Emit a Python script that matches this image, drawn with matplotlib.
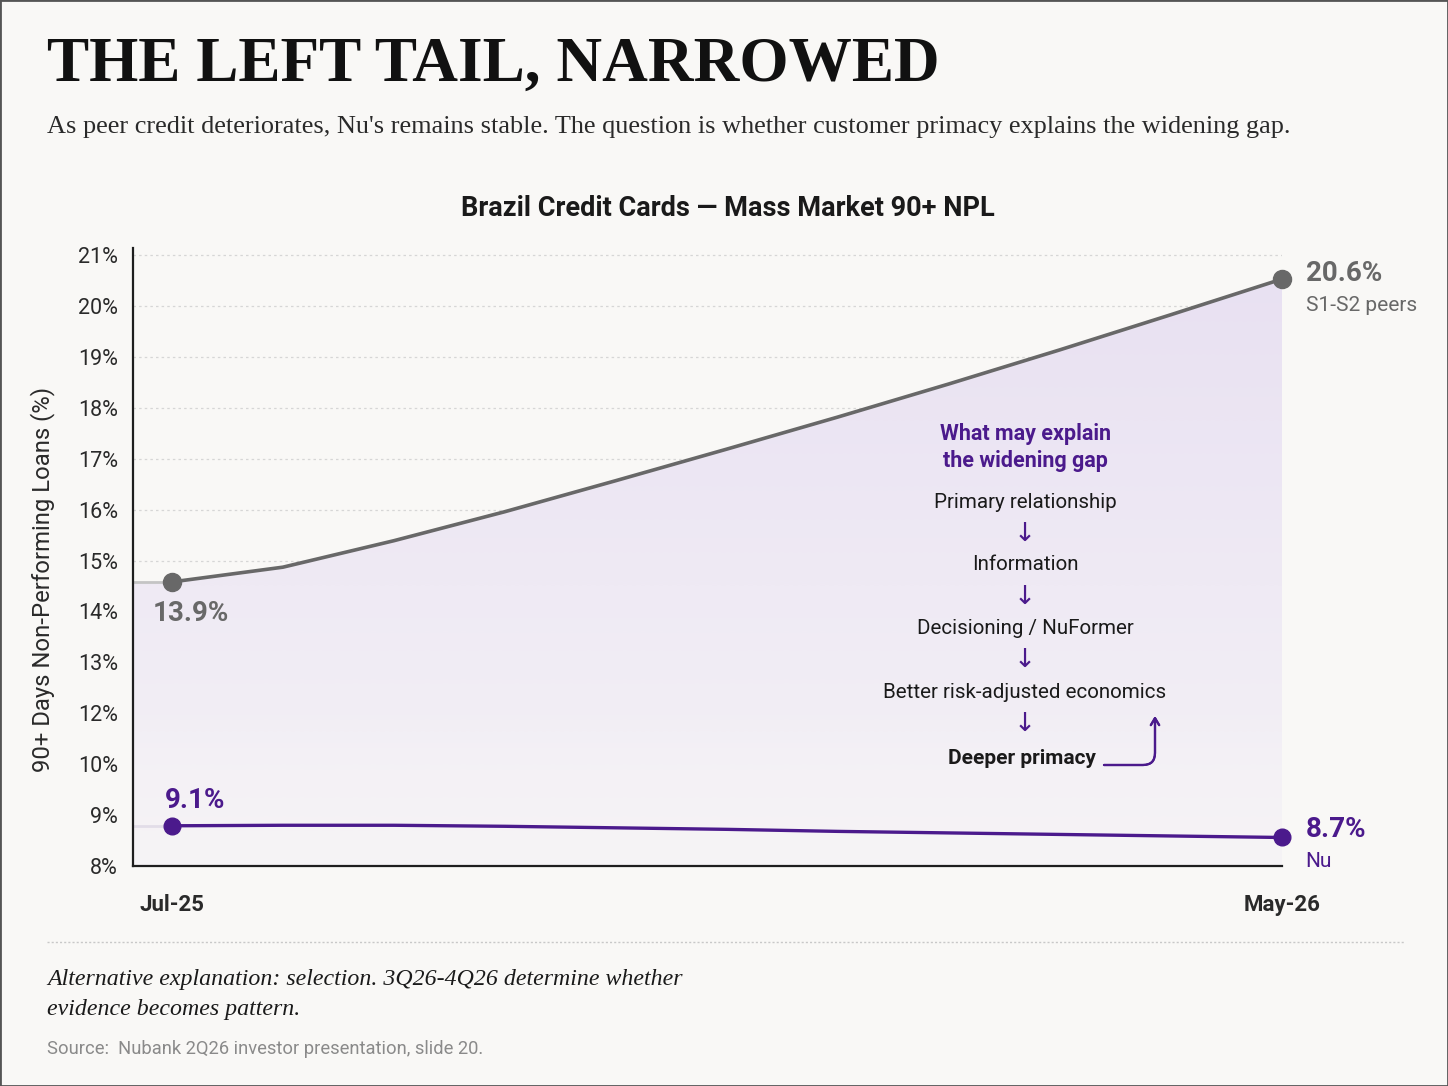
import matplotlib
matplotlib.use("Agg")
import matplotlib.pyplot as plt
import numpy as np
from matplotlib.patches import Rectangle
from matplotlib.colors import LinearSegmentedColormap

# data
months = ["Jul-25", "Aug-25", "Sep-25", "Oct-25", "Nov-25", "Dec-25",
          "Jan-26", "Feb-26", "Mar-26", "Apr-26", "May-26"]
peers = [14.58, 14.87, 15.39, 15.96, 16.57, 17.19, 17.82, 18.47, 19.14, 19.83, 20.53]
nu = [8.79, 8.80, 8.80, 8.78, 8.75, 8.72, 8.68, 8.65, 8.62, 8.59, 8.56]
peer_labels = ["13.9%", "20.6%"]
nu_labels = ["9.1%", "8.7%"]
tick_vals = [8, 9, 10, 12, 13, 14, 15, 16, 17, 18, 19, 20, 21]
tick_labels = ["8%", "9%", "10%", "12%", "13%", "14%", "15%", "16%",
               "17%", "18%", "19%", "20%", "21%"]
steps = ["Primary relationship", "Information", "Decisioning / NuFormer",
         "Better risk-adjusted economics"]

BG = "#f9f8f6"
PURPLE = "#4b1a8c"
GREY = "#686868"
SANS = ["Roboto", "DejaVu Sans"]
SERIF = ["Liberation Serif", "DejaVu Serif"]
plt.rcParams["font.family"] = SANS


def fwd(v):
    v = np.asarray(v, dtype=float)
    return np.where(v >= 12, v - 9, np.where(v >= 10, 2 + (v - 10) / 2, v - 8))


def inv(p):
    p = np.asarray(p, dtype=float)
    return np.where(p >= 3, p + 9, np.where(p >= 2, 10 + 2 * (p - 2), p + 8))


fig = plt.figure(figsize=(14.48, 10.86), dpi=100, facecolor=BG)
ax = fig.add_axes([133 / 1448, 220 / 1086, 1149 / 1448, 618 / 1086])
ax.set_facecolor(BG)
ax.set_yscale("function", functions=(fwd, inv))

x = np.arange(len(months))
x0 = -0.35
ax.set_xlim(x0, 10)
ax.set_ylim(8, 21.14)

# gradient fill under the peer line
fx = np.r_[x0, x]
fy = np.r_[peers[0], peers]
poly = ax.fill_between(fx, fy, 8, color="none", lw=0)
cmap = LinearSegmentedColormap.from_list("g", ["#f6f4f6", "#e8e0f2"])
grad = np.linspace(0, 1, 256).reshape(-1, 1)
im = ax.imshow(grad, cmap=cmap, aspect="auto", origin="lower",
               extent=(x0, 10, 8, 21), zorder=1, interpolation="bilinear")
im.set_clip_path(poly.get_paths()[0], transform=ax.transData)

# lead-in lines from axis
ax.plot([x0, 0], [peers[0]] * 2, color="#c4c4c4", lw=2, zorder=2)
ax.plot([x0, 0], [nu[0]] * 2, color="#e2dde8", lw=2, zorder=2)

ax.plot(x, peers, color=GREY, lw=2.6, zorder=3, solid_capstyle="round",
        solid_joinstyle="round")
ax.plot(x, nu, color=PURPLE, lw=2.4, zorder=3, solid_capstyle="round",
        solid_joinstyle="round")
ax.plot([x[0], x[-1]], [peers[0], peers[-1]], "o", color=GREY, ms=13,
        zorder=4, clip_on=False)
ax.plot([x[0], x[-1]], [nu[0], nu[-1]], "o", color=PURPLE, ms=12,
        zorder=4, clip_on=False)

ax.set_yticks(tick_vals, tick_labels)
ax.set_xticks([0, 10], [months[0], months[-1]])
ax.tick_params(axis="y", length=0, pad=11, labelsize=15.5, labelcolor="#2a2a2a")
ax.tick_params(axis="x", length=0, pad=20, labelsize=16, labelcolor="#2a2a2a")
for t in ax.get_xticklabels():
    t.set_fontweight("bold")
ax.grid(axis="y", color="#d6d6d6", lw=0.9, linestyle=(0, (2, 2.5)))
ax.set_axisbelow(True)
for s in ["top", "right"]:
    ax.spines[s].set_visible(False)
for s in ["left", "bottom"]:
    ax.spines[s].set_color("#1e1e1e")
    ax.spines[s].set_linewidth(1.6)
ax.set_ylabel("90+ Days Non-Performing Loans (%)", fontsize=17.2,
              color="#2a2a2a")
ax.yaxis.set_label_coords(-0.068, 0.463)

# end labels
kw = dict(textcoords="offset points", annotation_clip=False)
ax.annotate(peer_labels[0], (x[0], peers[0]), xytext=(14, -23), ha="center",
            va="center", fontsize=20, fontweight="bold", color=GREY, **kw)
ax.annotate(nu_labels[0], (x[0], nu[0]), xytext=(17, 18), ha="center",
            va="center", fontsize=20, fontweight="bold", color=PURPLE, **kw)
ax.annotate(peer_labels[1], (x[-1], peers[-1]), xytext=(17, 4), ha="left",
            va="center", fontsize=20, fontweight="bold", color=GREY, **kw)
ax.annotate("S1-S2 peers", (x[-1], peers[-1]), xytext=(17, -19), ha="left",
            va="center", fontsize=15, color=GREY, **kw)
ax.annotate(nu_labels[1], (x[-1], nu[-1]), xytext=(17, 6), ha="left",
            va="center", fontsize=20, fontweight="bold", color=PURPLE, **kw)
ax.annotate("Nu", (x[-1], nu[-1]), xytext=(17, -17), ha="left",
            va="center", fontsize=15, color=PURPLE, **kw)

# explanation chain (figure pixel coords)
H = 1086
cx = 1025
fig.text(cx / 1448, 1 - 434 / H, "What may explain", ha="center", va="center",
         fontsize=15.5, fontweight="bold", color=PURPLE)
fig.text(cx / 1448, 1 - 461 / H, "the widening gap", ha="center", va="center",
         fontsize=15.5, fontweight="bold", color=PURPLE)
ys = [502, 565, 628, 692]
for s, yy in zip(steps, ys):
    fig.text(cx / 1448, 1 - yy / H, s, ha="center", va="center",
             fontsize=14.8, color="#1a1a1a")
    fig.text(cx / 1448, 1 - (yy + 32) / H, "↓", ha="center", va="center",
             fontsize=19, color=PURPLE, family=["DejaVu Sans"])
fig.text(1022 / 1448, 1 - 758 / H, "Deeper primacy", ha="center", va="center",
         fontsize=15, fontweight="bold", color="#1a1a1a")
fig.add_artist(plt.annotate("", xy=(1155 / 1448, 1 - 716 / H),
                            xytext=(1104 / 1448, 1 - 765 / H),
                            xycoords="figure fraction",
                            textcoords="figure fraction",
                            arrowprops=dict(arrowstyle="->,head_length=0.5,head_width=0.3",
                                            color=PURPLE, lw=1.6,
                                            connectionstyle="angle,angleA=0,angleB=90,rad=12",
                                            shrinkA=0, shrinkB=0)))

# headings
fig.text(47 / 1448, 1 - 66 / H, "THE LEFT TAIL, NARROWED", ha="left",
         va="center", fontsize=45.5, fontweight="bold", color="#111111",
         family=SERIF)
fig.text(47 / 1448, 1 - 127 / H,
         "As peer credit deteriorates, Nu's remains stable. The question is "
         "whether customer primacy explains the widening gap.",
         ha="left", va="center", fontsize=18.9, color="#2a2a2a", family=SERIF)
fig.text(728 / 1448, 1 - 209 / H, "Brazil Credit Cards — Mass Market 90+ NPL",
         ha="center", va="center", fontsize=19.5, fontweight="bold",
         color="#1a1a1a")

# footer
fig.add_artist(plt.Line2D([47 / 1448, 1405 / 1448], [1 - 942 / H] * 2,
                          transform=fig.transFigure, color="#c8c8c8", lw=1,
                          linestyle=(0, (1.5, 1.5))))
fig.text(47 / 1448, 1 - 979 / H,
         "Alternative explanation: selection. 3Q26-4Q26 determine whether",
         ha="left", va="center", fontsize=17.2, style="italic",
         color="#1a1a1a", family=SERIF)
fig.text(47 / 1448, 1 - 1009 / H, "evidence becomes pattern.", ha="left",
         va="center", fontsize=17.2, style="italic", color="#1a1a1a",
         family=SERIF)
fig.text(47 / 1448, 1 - 1049 / H,
         "Source:  Nubank 2Q26 investor presentation, slide 20.", ha="left",
         va="center", fontsize=13.2, color="#8a8a8a")

fig.add_artist(Rectangle((0, 0), 1, 1, transform=fig.transFigure,
                         fill=False, edgecolor="#555555", lw=2))

fig.savefig("out.png", dpi=100, facecolor=BG)
